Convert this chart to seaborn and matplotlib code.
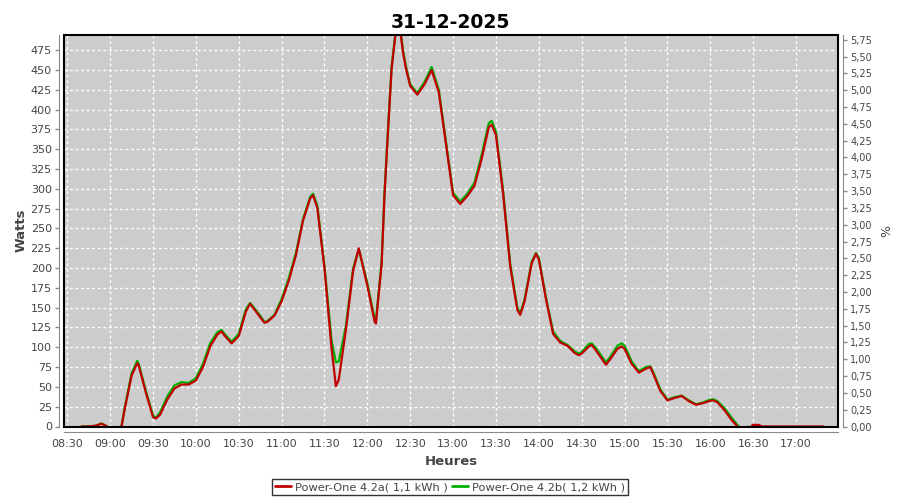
import numpy as np
import pandas as pd
import seaborn as sns
import matplotlib
matplotlib.use("Agg")
import matplotlib.pyplot as plt
import matplotlib.dates as mdates
from matplotlib.patches import Rectangle
from matplotlib.ticker import FuncFormatter, MultipleLocator

nan = np.nan

# relevés du 31-12-2025 (heure, watts)
times = ["08:40", "08:45", "08:50", "08:54", "08:58", "09:00", "09:08", "09:10", "09:15", "09:19",
         "09:20", "09:25", "09:30", "09:32", "09:35", "09:40", "09:45", "09:50", "09:55",
         "10:00", "10:05", "10:10", "10:15", "10:18", "10:20", "10:25", "10:30", "10:35", "10:38",
         "10:45", "10:48", "10:50", "10:55",
         "11:00", "11:05", "11:10", "11:15", "11:20", "11:22", "11:25", "11:30", "11:35", "11:38",
         "11:40", "11:45", "11:50", "11:54",
         "12:00", "12:05", "12:06", "12:10", "12:12", "12:15", "12:17", "12:20", "12:23", "12:25",
         "12:27", "12:30", "12:35", "12:40", "12:45", "12:50", "12:55",
         "13:00", "13:05", "13:10", "13:15", "13:20", "13:25", "13:27", "13:30", "13:35", "13:40",
         "13:45", "13:47", "13:50", "13:55", "13:58",
         "14:00", "14:05", "14:10", "14:15", "14:20", "14:25", "14:28", "14:30", "14:35", "14:37",
         "14:40", "14:45", "14:47", "14:50", "14:55", "14:58",
         "15:00", "15:05", "15:10", "15:15", "15:18", "15:20", "15:25", "15:30", "15:35", "15:40",
         "15:45", "15:50", "15:55",
         "16:00", "16:02", "16:05", "16:10", "16:15", "16:19", "16:20", "16:22", "16:26", "16:29",
         "16:30", "16:34", "16:36", "17:19"]

power_a = [0, 0, 1, 3.5, 0, nan, 0, 20, 64, 80,
           77, 43, 12, 10, 15, 34, 48, 53, 53,
           58, 75, 101, 116, 120, 115, 105, 114, 145, 155,
           138, 131, 132, 140,
           158, 184, 216, 260, 288, 292, 276, 200, 98, 51,
           59, 122, 196, 225,
           178, 133, 130, 205, 292, 390, 452, 500, 500, 472,
           452, 430, 419, 432, 450, 422, 357,
           292, 281, 291, 304, 338, 378, 381, 368, 294, 202,
           147, 141, 158, 206, 218,
           211, 161, 117, 106, 102, 93, 90, 92, 101, 103,
           96, 83, 78, 85, 98, 101,
           98, 79, 68, 73, 75, 67, 45, 33, 36, 38.5,
           32, 27.5, 29.5,
           32.5, 33, 30.5, 20.5, 8, 0, nan, nan, nan, 1,
           2, 2, 0, 0]

power_b = [0, 0, 1, 4, 0, nan, 0, 22, 67, 83,
           79, 45, 14, 11, 18, 38, 52, 56, 55,
           61, 79, 105, 119, 122, 117, 107, 117, 148, 156,
           140, 132, 133, 141,
           161, 187, 219, 262, 290, 294, 279, 203, 108, 81,
           82, 127, 199, 224,
           181, 137, 134, 208, 295, 393, 455, 502, 502, 475,
           455, 432, 421, 435, 454, 425, 360,
           295, 284, 294, 308, 343, 383, 386, 372, 298, 205,
           150, 143, 160, 208, 219,
           213, 163, 120, 108, 103, 95, 92, 94, 104, 105,
           99, 86, 81, 88, 102, 105,
           102, 82, 70, 75, 76, 69, 47, 34, 37, 39,
           33, 28, 30.5,
           34, 34.5, 32, 23, 11, 2, 0, nan, 0, 0,
           0, 0, 0, 0]

label_a = "Power-One 4.2a( 1,1 kWh )"
label_b = "Power-One 4.2b( 1,2 kWh )"
color_a = "#c00000"
color_b = "#00b000"

day = "2025-12-31 "
stamp = pd.to_datetime([day + t for t in times])


def series_frame(values, name):
    df = pd.DataFrame({"heure": stamp, "watts": values})
    df["seg"] = df["watts"].isna().cumsum()
    df = df.dropna()
    df["serie"] = name
    return df


df_a = series_frame(power_a, label_a)
df_b = series_frame(power_b, label_b)

sns.set_style("white")
plt.rcParams["font.family"] = ["DejaVu Sans"]
txt = "#444444"
axis_gray = "#8a8a8a"

fig = plt.figure(figsize=(9, 5), dpi=100)
ax = fig.add_axes([0.0714, 0.147, 0.8594, 0.783])
ax.set_facecolor("#cccccc")

sns.lineplot(data=df_b, x="heure", y="watts", units="seg", estimator=None,
             color=color_b, lw=1.6, ax=ax, legend=False)
sns.lineplot(data=df_a, x="heure", y="watts", units="seg", estimator=None,
             color=color_a, lw=1.6, ax=ax, legend=False)

ax.set_xlim(pd.Timestamp(day + "08:27:55"), pd.Timestamp(day + "17:29:10"))
ax.set_ylim(0, 494.3)
ax.yaxis.set_major_locator(MultipleLocator(25))
ax.set_xticks(pd.date_range(day + "08:30", day + "17:00", freq="30min"))
ax.xaxis.set_major_formatter(mdates.DateFormatter("%H:%M"))
ax.grid(True, color="white", ls=(0, (2, 2)), lw=1)

for s in ["top", "right"]:
    ax.spines[s].set_visible(False)
for s in ["left", "bottom"]:
    ax.spines[s].set_position(("outward", 4))
    ax.spines[s].set_color(axis_gray)
ax.tick_params(axis="both", colors=axis_gray, labelcolor=txt, labelsize=8,
               length=3, width=1, direction="out", pad=2)

ax.set_xlabel("Heures", fontsize=9.5, fontweight="bold", color=txt, labelpad=4)
ax.set_ylabel("Watts", fontsize=9.5, fontweight="bold", color=txt)
ax.yaxis.set_label_coords(-0.048, 0.5)

# axe de droite en %
ax2 = ax.twinx()
ax2.set_ylim(0, 5.82)
ax2.yaxis.set_major_locator(MultipleLocator(0.25))
ax2.yaxis.set_major_formatter(FuncFormatter(lambda v, p: f"{v:.2f}".replace(".", ",")))
for s in ["top", "left", "bottom"]:
    ax2.spines[s].set_visible(False)
ax2.spines["right"].set_position(("outward", 4))
ax2.spines["right"].set_color(axis_gray)
ax2.tick_params(axis="y", colors=axis_gray, labelcolor=txt, labelsize=7,
                length=3, width=1, direction="out", pad=2)
ax2.set_ylabel("%", fontsize=9, color=txt)
ax2.yaxis.set_label_coords(1.055, 0.5)

ax2.add_patch(Rectangle((0, 0), 1, 1, transform=ax.transAxes, fill=False,
                        edgecolor="black", lw=1.5, clip_on=False, zorder=10))

fig.suptitle("31-12-2025", x=0.5, y=0.975, fontsize=13.5, fontweight="bold", color="black")

handles = [plt.Line2D([], [], color=color_a, lw=2), plt.Line2D([], [], color=color_b, lw=2)]
leg = fig.legend(handles, [label_a, label_b], loc="center", bbox_to_anchor=(0.5, 0.026),
                 ncol=2, fontsize=8.2, frameon=True, fancybox=False, edgecolor="black",
                 handlelength=1.4, handletextpad=0.3, columnspacing=0.4,
                 borderpad=0.3, borderaxespad=0)
leg.get_frame().set_linewidth(1)
for t in leg.get_texts():
    t.set_color(txt)

fig.savefig("out.png", dpi=100, facecolor="white")
